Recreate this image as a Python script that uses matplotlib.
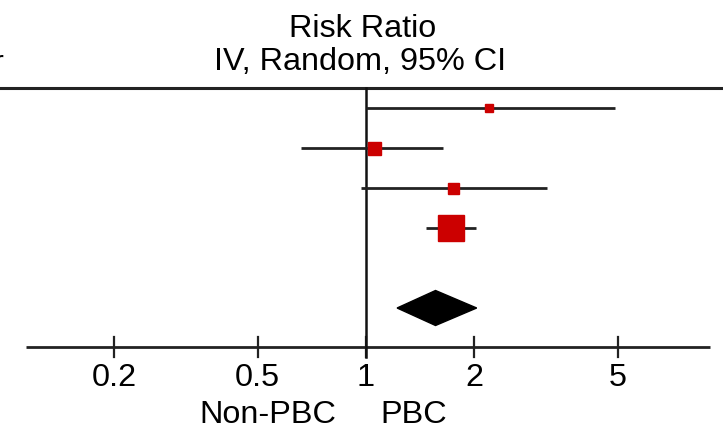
import matplotlib
matplotlib.use("Agg")
import matplotlib.pyplot as plt
from matplotlib.patches import Polygon

# Data (risk ratios, 95% CI)
rr = [2.20, 1.05, 1.74, 1.72]
ci_low = [1.00, 0.66, 0.97, 1.47]
ci_high = [4.92, 1.64, 3.18, 2.02]
marker_px = [8, 13, 11, 26]
pooled = 1.56
pooled_low = 1.22
pooled_high = 2.03
tick_vals = [0.2, 0.5, 1, 2, 5]
tick_labels = ["0.2", "0.5", "1", "2", "5"]

W, H = 723, 429
fig = plt.figure(figsize=(W / 100, H / 100), dpi=100)
ax = fig.add_axes([0, 0, 1, 1])
ax.set_xscale("log")
# x=1 at 366px, 360 px per decade; rows at 108 + 40*i px
ax.set_xlim(10 ** (-366 / 360), 10 ** ((W - 366) / 360))
row0, dy = 108, 40
ax.set_ylim((H - row0) / dy, -row0 / dy)
ax.axis("off")

fam = ["Liberation Sans", "DejaVu Sans"]
fs = 23.3

def yrow(px):
    return (px - row0) / dy

# top rule
ax.axhline(yrow(88), color="#222222", lw=2.2)
# bottom axis
ya = yrow(347)
ax.plot([0.114, 9.0], [ya, ya], color="#222222", lw=2.0, solid_capstyle="butt")
for t in tick_vals:
    ax.plot([t, t], [yrow(337), yrow(357)], color="#222222", lw=1.6)
# line of no effect
ax.plot([1, 1], [yrow(88), yrow(357)], color="#111111", lw=1.8)

# studies
for i, (m, lo, hi, s) in enumerate(zip(rr, ci_low, ci_high, marker_px)):
    ax.plot([lo, hi], [i, i], color="#222222", lw=2.0, solid_capstyle="butt", zorder=2)
    ax.plot([m], [i], marker="s", ms=s * 0.72, color="#cc0000", mec="#cc0000", zorder=3, lw=0)

# pooled diamond
yd = yrow(308)
hh = 17.5 / dy
diamond = Polygon([[pooled_low, yd], [pooled, yd - hh], [pooled_high, yd], [pooled, yd + hh]],
                  closed=True, facecolor="black", edgecolor="black", zorder=3)
ax.add_patch(diamond)

# tick labels
for t, lab in zip(tick_vals, tick_labels):
    ax.text(t, yrow(386), lab, ha="center", va="baseline", fontsize=fs, family=fam)

# texts
fig.text(363 / W, 1 - 37 / H, "Risk Ratio", ha="center", va="baseline", fontsize=fs, family=fam)
fig.text(360 / W, 1 - 70 / H, "IV, Random, 95% CI", ha="center", va="baseline", fontsize=fs, family=fam)
fig.text(268 / W, 1 - 423 / H, "Non-PBC", ha="center", va="baseline", fontsize=fs, family=fam)
fig.text(414 / W, 1 - 423 / H, "PBC", ha="center", va="baseline", fontsize=fs, family=fam)
fig.text(4 / W, 1 - 72 / H, "r", ha="right", va="baseline", fontsize=fs, family=fam)

fig.savefig("out.png", dpi=100)
